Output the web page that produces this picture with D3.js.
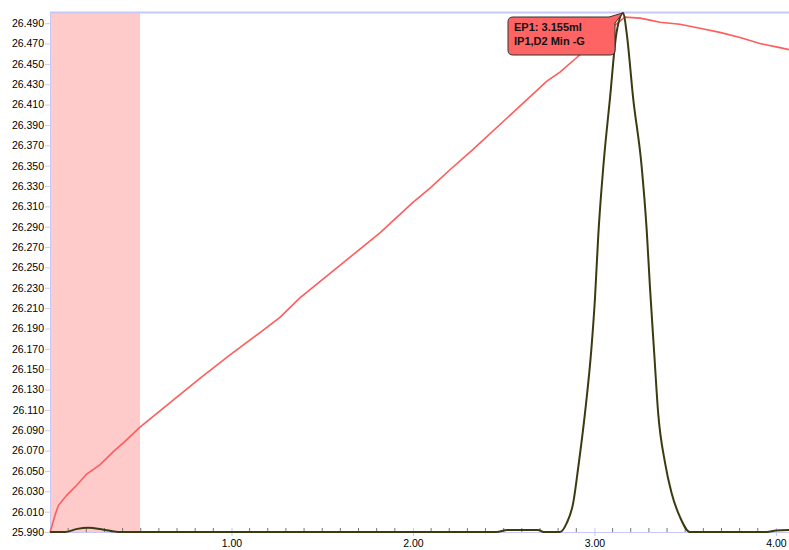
<!DOCTYPE html>
<html>
<head>
<meta charset="utf-8">
<script src="https://cdn.jsdelivr.net/npm/d3@7"></script>
<style>
  body { margin: 0; background: #fff; }
  svg text { font-family: "Liberation Sans", Arial, sans-serif; }
</style>
</head>
<body>
<div id="main"></div>
<script>
// titration curve (volume in ml, potential reading)
const volume = [0, 0.009, 0.03, 0.046, 0.092, 0.147, 0.202, 0.275, 0.349, 0.413, 0.496, 0.716, 0.826, 0.992, 1.157, 1.267, 1.377, 1.818, 2.0, 2.094, 2.204, 2.331, 2.738, 2.81, 2.92, 3.03, 3.168, 3.251, 3.306, 3.361, 3.471, 3.581, 3.691, 3.802, 3.912, 4.022, 4.072];
const reading = [25.990, 25.995, 26.008, 26.016, 26.026, 26.036, 26.047, 26.056, 26.069, 26.079, 26.093, 26.125, 26.141, 26.164, 26.186, 26.201, 26.220, 26.284, 26.314, 26.328, 26.346, 26.366, 26.433, 26.442, 26.459, 26.476, 26.496, 26.495, 26.493, 26.491, 26.489, 26.485, 26.481, 26.476, 26.470, 26.466, 26.464];
// second derivative curve (normalised height)
const dVolume = [0, 0.083, 0.15, 0.21, 0.29, 0.375, 2.46, 2.52, 2.69, 2.72, 2.81, 2.847, 2.883, 2.911, 2.948, 2.984, 3.003, 3.021, 3.049, 3.085, 3.122, 3.159, 3.177, 3.214, 3.26, 3.288, 3.306, 3.33, 3.351, 3.389, 3.425, 3.471, 3.526, 3.95, 4.0, 4.072];
const dHeight = [0, 0, 0.006, 0.008, 0.005, 0, 0, 0.004, 0.004, 0, 0, 0.017, 0.056, 0.125, 0.229, 0.356, 0.45, 0.57, 0.703, 0.832, 0.961, 0.998, 0.961, 0.832, 0.703, 0.58, 0.47, 0.34, 0.229, 0.133, 0.075, 0.029, 0, 0, 0.003, 0.004];
// shaded start region
const band = [0, 0.496];
// axis ticks
const yTicks = d3.range(0, 26).map(i => +(25.99 + i * 0.02).toFixed(3));
const xMajor = [1, 2, 3, 4];
const xMinor = d3.range(1, 41).map(i => i / 10);
// endpoint marker
const endpoint = { volume: 3.155, lines: ['EP1: 3.155ml', 'IP1,D2 Min -G'] };

const width = 789;
const height = 550;
const margin = { left: 50, right: 789, top: 12, bottom: 532 };

const x = d3.scaleLinear().domain([0, 4.072]).range([margin.left, margin.right]);
const y = d3.scaleLinear().domain([25.99, 26.501]).range([margin.bottom, margin.top]);
const y2 = d3.scaleLinear().domain([0, 1]).range([margin.bottom, margin.top]);

const svg = d3.select('#main')
  .append('svg')
  .attr('width', width)
  .attr('height', height);

// pink band
svg.append('rect')
  .attr('x', x(band[0]))
  .attr('y', margin.top)
  .attr('width', x(band[1]) - x(band[0]))
  .attr('height', margin.bottom - margin.top)
  .attr('fill', '#ffcaca');

// frame line on top
const axisColor = '#c8c8f4';
svg.append('line')
  .attr('x1', margin.left).attr('x2', margin.right)
  .attr('y1', margin.top + 0.5).attr('y2', margin.top + 0.5)
  .attr('stroke', axisColor).attr('stroke-width', 2);

// y axis
const yAxis = svg.append('g')
  .attr('transform', `translate(${margin.left},0)`)
  .call(d3.axisLeft(y).tickValues(yTicks).tickFormat(d3.format('.3f')).tickSize(5).tickSizeOuter(0));
yAxis.select('.domain').attr('stroke', axisColor);
yAxis.selectAll('.tick line').attr('stroke', axisColor);
yAxis.selectAll('.tick text')
  .attr('fill', '#000')
  .attr('font-size', '10.5px')
  .attr('x', -6);

// x axis
const xAxis = svg.append('g')
  .attr('transform', `translate(0,${margin.bottom})`)
  .call(d3.axisBottom(x).tickValues(xMajor).tickFormat(d3.format('.2f')).tickSize(4).tickSizeOuter(0));
xAxis.select('.domain').attr('stroke', axisColor);
xAxis.selectAll('.tick line').attr('stroke', axisColor).attr('y1', -4);
xAxis.selectAll('.tick text')
  .attr('fill', '#000')
  .attr('font-size', '10.5px')
  .attr('y', 8);

// minor ticks
svg.append('g')
  .selectAll('line')
  .data(xMinor.filter(v => !xMajor.includes(v)))
  .enter()
  .append('line')
  .attr('x1', d => x(d)).attr('x2', d => x(d))
  .attr('y1', margin.bottom - 4).attr('y2', margin.bottom)
  .attr('stroke', '#777');

// titration curve
svg.append('path')
  .datum(volume.map((v, i) => [v, reading[i]]))
  .attr('fill', 'none')
  .attr('stroke', '#ff5c5c')
  .attr('stroke-width', 1.6)
  .attr('d', d3.line().x(d => x(d[0])).y(d => y(d[1])));

// derivative curve
svg.append('path')
  .datum(dVolume.map((v, i) => [v, dHeight[i]]))
  .attr('fill', 'none')
  .attr('stroke', '#3b3b12')
  .attr('stroke-width', 2)
  .attr('stroke-linejoin', 'round')
  .attr('d', d3.line().curve(d3.curveMonotoneX).x(d => x(d[0])).y(d => y2(d[1])));

// endpoint callout
const px = x(endpoint.volume);
const py = y2(0.998);
const bx = 508, by = 17, bw = 107, bh = 38, r = 5;
svg.append('path')
  .attr('d', `M${bx + r},${by} H${bx + bw - 6} L${px},${py} L${bx + bw},${by + 6} V${by + bh - r} Q${bx + bw},${by + bh} ${bx + bw - r},${by + bh} H${bx + r} Q${bx},${by + bh} ${bx},${by + bh - r} V${by + r} Q${bx},${by} ${bx + r},${by} Z`)
  .attr('fill', '#ff6464')
  .attr('stroke', '#333')
  .attr('stroke-width', 1);

svg.append('g')
  .selectAll('text')
  .data(endpoint.lines)
  .enter()
  .append('text')
  .attr('x', bx + 6)
  .attr('y', (d, i) => by + 14 + i * 14)
  .attr('font-size', '11px')
  .attr('font-weight', 'bold')
  .attr('fill', '#111')
  .text(d => d);
</script>
</body>
</html>
